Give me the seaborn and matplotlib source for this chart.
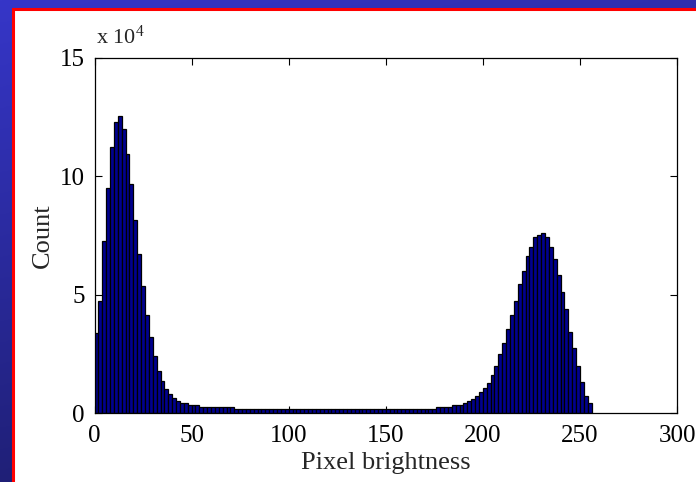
import numpy as np
import pandas as pd
import matplotlib
matplotlib.use("Agg")
import matplotlib.pyplot as plt
from matplotlib.patches import Rectangle
from matplotlib.ticker import FuncFormatter
import seaborn as sns

# ---- data ----
bin_edges = list(range(0, 258, 2))          # 128 bins of width 2, 0..256
counts = [
    33700, 47300, 72800, 94900, 112500, 122900, 125500, 120000, 109400, 96600,
    81500, 67200, 53700, 41500, 32100, 24100, 17900, 13700, 10300, 7900,
    6200, 5100, 4200, 4100, 3400, 3400, 3400,
    2500, 2500, 2500, 2500, 2500, 2500, 2500, 2500, 2500,
    1500, 1500, 1500, 1500, 1500, 1500, 1500, 1500, 1500, 1500,
    1500, 1500, 1500, 1500, 1500, 1500, 1500, 1500, 1500, 1500,
    1500, 1500, 1500, 1500, 1500, 1500, 1500, 1500, 1500, 1500,
    1500, 1500, 1500, 1500, 1500, 1500, 1500, 1500, 1500, 1500,
    1500, 1500, 1500, 1500, 1500, 1500, 1500, 1500, 1500, 1500,
    1500, 1500,
    2500, 2500, 2500, 2500,
    3500, 3500, 3500,
    4200, 4900, 5800, 7300, 8900,
    10400, 12800, 16100, 20000, 24800, 29700, 35400, 41500, 47300, 54400,
    60000, 66300, 70300, 74500, 75300, 76200, 74200, 70300, 64900, 58300,
    51200, 43800, 34300, 27300, 20000, 13000, 7300, 4100,
]
x_ticks = [0, 50, 100, 150, 200, 250, 300]
y_ticks = [0, 50000, 100000, 150000]
x_label = "Pixel brightness"
y_label = "Count"
scale_text = r"x 10$^{4}$"

df = pd.DataFrame({
    "center": [(a + b) / 2 for a, b in zip(bin_edges[:-1], bin_edges[1:])],
    "count": counts,
})

# ---- style ----
sns.set_style("white")
plt.rcParams["font.family"] = ["Liberation Serif", "DejaVu Serif"]
plt.rcParams["mathtext.fontset"] = "custom"
plt.rcParams["mathtext.rm"] = "Liberation Serif"
plt.rcParams["mathtext.it"] = "Liberation Serif:italic"

W, H = 696, 482
fig = plt.figure(figsize=(W / 100, H / 100), dpi=100)

# background: blue gradient with white panel and red border
bg = fig.add_axes([0, 0, 1, 1], zorder=-10)
yy, xx = np.mgrid[0:1:200j, 0:1:200j]
t = 0.75 * yy + 0.25 * xx
c0 = np.array([0x36, 0x36, 0xc8]) / 255
c1 = np.array([0x18, 0x18, 0x5c]) / 255
grad = c0[None, None, :] * (1 - t[..., None]) + c1[None, None, :] * t[..., None]
bg.imshow(grad, extent=[0, 1, 0, 1], aspect="auto", origin="upper")
bg.add_patch(Rectangle((13 / W, -0.01), 1.0, 1 - 9 / H + 0.01,
                       facecolor="white", edgecolor="#ff0000", linewidth=2.2))
bg.set_xlim(0, 1)
bg.set_ylim(0, 1)
bg.axis("off")

ax = fig.add_axes([94.5 / W, 1 - 413 / H, (677 - 94.5) / W, (413 - 58) / H])
sns.histplot(data=df, x="center", weights="count", bins=bin_edges,
             color="#00008f", edgecolor="black", linewidth=0.9, alpha=1.0,
             ax=ax)

ax.set_xlim(0, 300)
ax.set_ylim(0, 150000)
ax.set_xticks(x_ticks)
ax.set_yticks(y_ticks)
ax.yaxis.set_major_formatter(FuncFormatter(lambda v, p: f"{v / 1e4:g}"))
for s in ax.spines.values():
    s.set_visible(True)
    s.set_color("black")
    s.set_linewidth(0.9)
ax.tick_params(direction="in", length=5, width=0.8, top=True, right=True,
               bottom=True, left=True, labelsize=18, colors="black")
ax.tick_params(axis="x", pad=9)
ax.tick_params(axis="y", pad=7)
ax.set_xlabel(x_label, fontsize=19, labelpad=3)
ax.set_ylabel(y_label, fontsize=19, labelpad=4)
ax.text(0.003, 1.025, scale_text, transform=ax.transAxes, fontsize=16,
        ha="left", va="bottom")

fig.savefig("out.png", dpi=100)
